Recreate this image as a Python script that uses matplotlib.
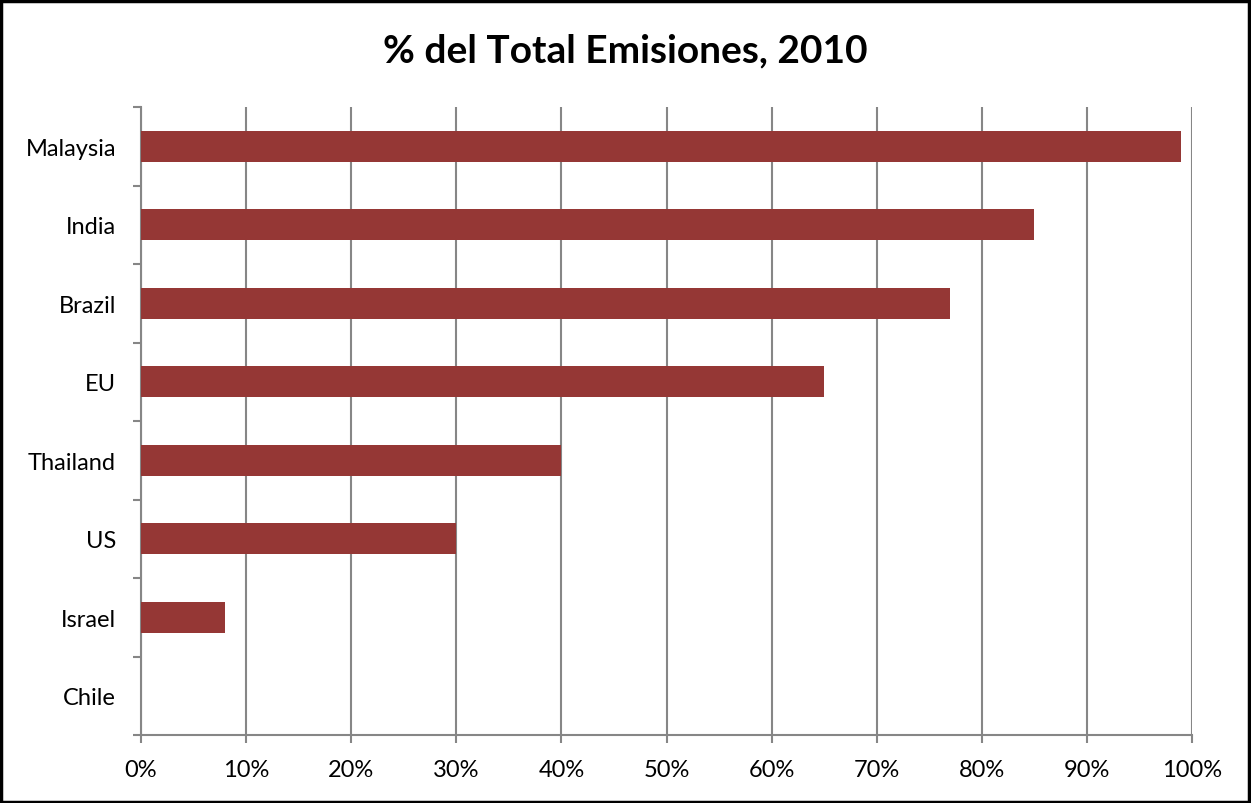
import matplotlib
matplotlib.use("Agg")
import matplotlib.pyplot as plt
from matplotlib.ticker import MultipleLocator, FixedLocator, PercentFormatter
from matplotlib.patches import Rectangle

countries = ["Malaysia", "India", "Brazil", "EU", "Thailand", "US", "Israel", "Chile"]
values = [99, 85, 77, 65, 40, 30, 8, 0]
title = "% del Total Emisiones, 2010"

plt.rcParams['font.family'] = ['Lato', 'DejaVu Sans']

fig = plt.figure(figsize=(12.51, 8.04), dpi=100)
ax = fig.add_axes([141/1251, 1-736/804, (1192-141)/1251, (736-108)/804])

n = len(countries)
ypos = list(range(n))[::-1]
ax.barh(ypos, values, height=0.4, color="#953735", zorder=3)

ax.set_xlim(0, 100)
ax.set_ylim(-0.5, n-0.5)
ax.xaxis.set_major_locator(MultipleLocator(10))
ax.xaxis.set_major_formatter(PercentFormatter(decimals=0))
ax.grid(axis='x', color="#868686", linewidth=1.5, zorder=0)
ax.set_yticks(ypos)
ax.set_yticklabels(countries)
ax.yaxis.set_minor_locator(FixedLocator([i - 0.5 for i in range(n + 1)]))
ax.tick_params(axis='y', which='major', length=0, pad=18, labelsize=17)
ax.tick_params(axis='y', which='minor', length=6, width=1.5, color="#868686")
ax.tick_params(axis='x', which='major', length=6, width=1.5, color="#868686", pad=11, labelsize=17)

for s in ['top', 'right']:
    ax.spines[s].set_visible(False)
for s in ['left', 'bottom']:
    ax.spines[s].set_color("#868686")
    ax.spines[s].set_linewidth(1.5)

fig.text(0.5, 1-51/804, title, ha='center', va='center', fontsize=28, fontweight='bold')

fig.patches.append(Rectangle((1/1251, 1/804), 1-3/1251, 1-3/804, transform=fig.transFigure,
                             fill=False, edgecolor='black', linewidth=2.5))

fig.savefig("out.png", dpi=100)
